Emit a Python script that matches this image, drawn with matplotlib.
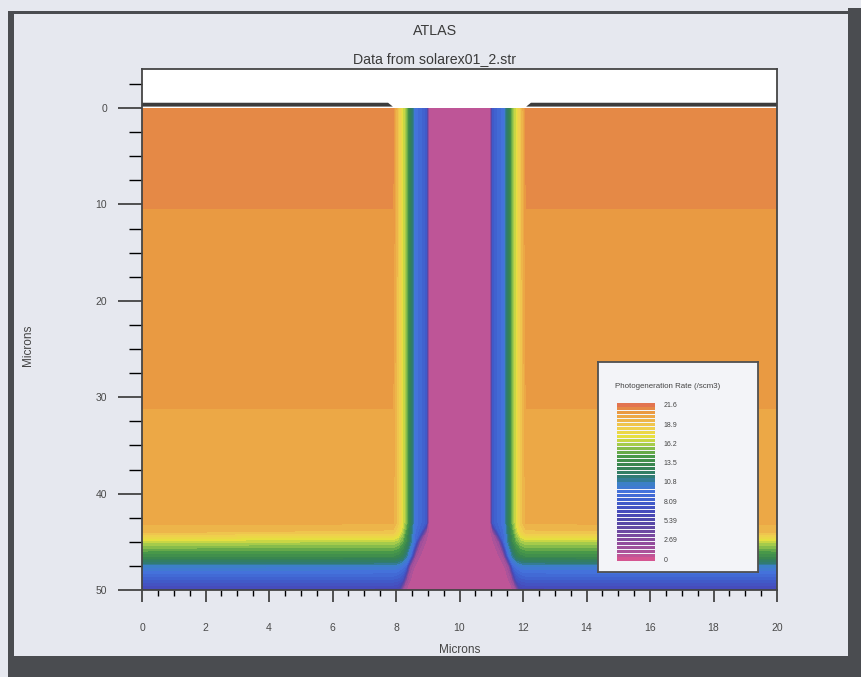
import numpy as np
import matplotlib.pyplot as plt
from matplotlib.colors import LinearSegmentedColormap, Normalize
from matplotlib.patches import Rectangle, Polygon
from matplotlib.ticker import MultipleLocator

plt.rcParams['font.family'] = ['Liberation Sans', 'DejaVu Sans']

# log10 photogeneration rate (/s cm3) on the left half of the cell,
# the right half is the mirror image about x = 10 um
x_half = np.array([0.0, 7.9, 8.06, 8.2, 8.32, 8.45, 8.6, 8.76, 8.95, 9.02, 10.0])
y_rows = np.array([0.0, 11.0, 32.0, 43.0, 44.0, 45.0, 46.5, 47.5, 49.0, 50.0])
gen_half = np.array([
    [20.85, 20.85, 18.6, 17.0, 15.2, 12.5, 9.6, 8.8, 7.8, 1.0, 1.0],
    [20.50, 20.50, 18.6, 17.0, 15.2, 12.5, 9.6, 8.8, 7.8, 1.0, 1.0],
    [19.96, 19.96, 18.6, 17.0, 15.2, 12.5, 9.6, 8.8, 7.8, 1.0, 1.0],
    [19.60, 19.55, 18.6, 17.0, 15.2, 12.5, 9.6, 8.8, 7.8, 1.0, 1.0],
    [18.95, 18.70, 17.8, 16.2, 14.2, 11.8, 9.2, 8.2, 1.5, 1.0, 1.0],
    [16.30, 16.20, 15.8, 14.8, 13.4, 11.2, 8.8, 2.0, 1.0, 1.0, 1.0],
    [13.60, 13.50, 13.1, 12.4, 11.0, 9.2, 1.8, 1.0, 1.0, 1.0, 1.0],
    [10.50, 10.40, 10.1, 9.6, 8.8, 2.0, 1.0, 1.0, 1.0, 1.0, 1.0],
    [8.00, 7.90, 7.7, 7.0, 2.0, 1.0, 1.0, 1.0, 1.0, 1.0, 1.0],
    [6.20, 6.10, 5.8, 1.6, 1.0, 1.0, 1.0, 1.0, 1.0, 1.0, 1.0],
])

gen_max = 21.6
n_levels = 40
legend_labels = ['0', '2.69', '5.39', '8.09', '10.8', '13.5', '16.2', '18.9', '21.6']

# TonyPlot-like rainbow, low (pink) to high (red-orange)
cmap_stops = [0.0, 0.046, 0.125, 0.25, 0.30, 0.375, 0.44, 0.486, 0.53, 0.60,
              0.67, 0.73, 0.79, 0.85, 0.912, 0.9375, 0.963, 1.0]
cmap_colors = ['#e0558e', '#b4559a', '#8a4a9c', '#5048a8', '#4848b8', '#3f5ecc',
               '#4474dc', '#3c80c8', '#2f7a78', '#368250', '#4a9a48', '#9cc84c',
               '#e8e040', '#f0cc50', '#eca946', '#e99a42', '#e58a45', '#e06a55']

# front contact metal
electrode_spans = [(0.0, 7.9), (12.1, 20.0)]

W, H = 861, 677


def px_box(x0, y0, x1, y1):
    return [x0 / W, 1 - y1 / H, (x1 - x0) / W, (y1 - y0) / H]


def px_rect(x0, y0, x1, y1, color):
    l, b, w, h = px_box(x0, y0, x1, y1)
    return Rectangle((l, b), w, h, transform=fig.transFigure, color=color, lw=0, zorder=0)


X = np.concatenate([x_half, 20.0 - x_half[-2::-1]])
Z = np.hstack([gen_half, gen_half[:, -2::-1]])
XX, YY = np.meshgrid(X, y_rows)

cmap = LinearSegmentedColormap.from_list('atlas', list(zip(cmap_stops, cmap_colors)))
norm = Normalize(0, gen_max)
levels = np.linspace(0, gen_max, n_levels + 1)

fig = plt.figure(figsize=(W / 100, H / 100), dpi=100, facecolor='#e6e8ef')

# window frame
for box in [(8, 11, 848, 14), (8, 11, 14, 656), (848, 8, 861, 677), (8, 656, 861, 677)]:
    fig.add_artist(px_rect(*box, '#4a4c50'))

ax = fig.add_axes(px_box(142, 69, 777, 590))
ax.set_facecolor('white')
ax.contourf(XX, YY, Z, levels=levels, cmap=cmap, norm=norm)
for x0, x1 in electrode_spans:
    bevel = 0.15 if x0 == 0 else -0.15
    edge_in = x1 if x0 == 0 else x0
    edge_out = x0 if x0 == 0 else x1
    ax.add_patch(Polygon([(edge_out, -0.55), (edge_in - bevel, -0.55), (edge_in, -0.15), (edge_out, -0.15)],
                         closed=True, color='#3c3c3c', lw=0))
ax.set_xlim(0, 20)
ax.set_ylim(50, -4.05)

ax.set_xticks(np.arange(0, 21, 2))
ax.xaxis.set_minor_locator(MultipleLocator(0.5))
ax.set_yticks(np.arange(0, 51, 10))
ax.yaxis.set_minor_locator(MultipleLocator(2.5))
ax.tick_params(axis='both', colors='#444444', labelcolor='#4a4a4a', labelsize=7.5)
ax.tick_params(axis='x', which='major', length=8.6, width=1.3, pad=15)
ax.tick_params(axis='x', which='minor', length=4.3, width=1.0)
ax.tick_params(axis='y', which='major', length=17, width=1.3, pad=8)
ax.tick_params(axis='y', which='minor', length=9.4, width=1.0)
for sp in ax.spines.values():
    sp.set_color('#454545')
    sp.set_linewidth(1.3)

fig.text(435 / W, 1 - 31 / H, 'ATLAS', ha='center', va='center', fontsize=10.3, color='#3a3a3a')
fig.text(435 / W, 1 - 59 / H, 'Data from solarex01_2.str', ha='center', va='center', fontsize=10.2, color='#3a3a3a')
fig.text(460 / W, 1 - 650 / H, 'Microns', ha='center', va='center', fontsize=8.5, color='#444444')
fig.text(28 / W, 1 - 345 / H, 'Microns', ha='center', va='center', rotation=90, fontsize=8.5, color='#444444')

# legend panel
lg = fig.add_axes(px_box(598, 362, 758, 572))
lg.set_facecolor('#f3f4f8')
lg.set_xticks([])
lg.set_yticks([])
for sp in lg.spines.values():
    sp.set_color('#505050')
    sp.set_linewidth(1.3)
lg.text(17 / 160, 1 - 24 / 210, 'Photogeneration Rate (/scm3)', transform=lg.transAxes,
        ha='left', va='center', fontsize=5.7, color='#444444')

sw = fig.add_axes(px_box(617, 403, 655, 561))
mids = 0.5 * (levels[:-1] + levels[1:])
sw.bar(np.full(n_levels, 0.5), np.full(n_levels, 0.78), bottom=np.arange(n_levels) + 0.11,
       width=1.0, color=cmap(norm(mids)), lw=0)
sw.set_xlim(0, 1)
sw.set_ylim(0, n_levels)
sw.set_facecolor('#f3f4f8')
sw.set_xticks([])
sw.set_yticks(np.linspace(0.5, n_levels - 0.5, len(legend_labels)))
sw.set_yticklabels(legend_labels)
sw.tick_params(axis='y', left=False, labelleft=False, right=True, labelright=True,
               length=0, pad=6, labelsize=5, labelcolor='#444444')
for sp in sw.spines.values():
    sp.set_visible(False)

fig.savefig('out.png', dpi=100, facecolor=fig.get_facecolor())
